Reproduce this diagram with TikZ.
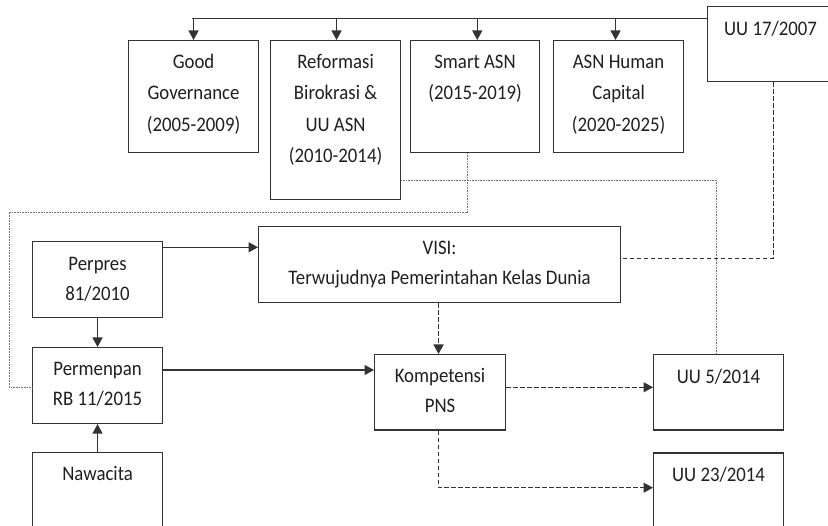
\documentclass[tikz,border=0pt]{standalone}
\usepackage{fontspec}
\usepackage{graphicx}
\setmainfont{Carlito}
\usetikzlibrary{arrows.meta}
% multi-line box caption, slightly stretched vertically
\newcommand\boxtext[2]{\scalebox{1}[1.1]{\fontsize{18.8}{#1}\selectfont\begin{tabular}{@{}c@{}}#2\end{tabular}}}
\begin{document}
\begin{tikzpicture}[x=1pt,y=-1pt,
  box/.style={draw=black!80, line width=1.1pt, inner sep=0pt, anchor=north west},
  lbl/.style={inner sep=0pt, anchor=north, text=black!88},
  link/.style={draw=black!80, line width=1.2pt, -{Triangle[length=9.5pt,width=10pt]}},
  dashlink/.style={link, dash pattern=on 4.5pt off 2.5pt},
  dashplain/.style={draw=black!80, line width=1.2pt, dash pattern=on 4.5pt off 2.5pt},
  dotlink/.style={draw=black!55, line width=0.8pt, dash pattern=on 0.8pt off 0.8pt}
]
\useasboundingbox (0,0) rectangle (828,526);
\clip (0,0) rectangle (828,526);

% upper row: periods of the grand design
\node[box, minimum width=130pt, minimum height=112pt] (gg)    at (128,40) {};
\node[box, minimum width=130pt, minimum height=159pt] (ref)   at (270,40) {};
\node[box, minimum width=129pt, minimum height=112pt] (smart) at (410,40) {};
\node[box, minimum width=130pt, minimum height=112pt] (hc)    at (553,40) {};
\node[box, minimum width=140pt, minimum height=75pt]  (uu17)  at (707,6) {};

\node[lbl] (gg-t)    at ([yshift=-6.3pt]gg.north)    {\boxtext{28.6}{Good\\Governance\\(2005-2009)}};
\node[lbl] (ref-t)   at ([yshift=-6.3pt]ref.north)   {\boxtext{28.6}{Reformasi\\Birokrasi \&\\UU ASN\\(2010-2014)}};
\node[lbl] (smart-t) at ([yshift=-6.3pt]smart.north) {\boxtext{28.6}{Smart ASN\\(2015-2019)}};
\node[lbl] (hc-t)    at ([yshift=-6.3pt]hc.north)    {\boxtext{28.6}{ASN Human\\Capital\\(2020-2025)}};
\node[lbl] (uu17-t)  at ([yshift=-8pt,xshift=-7pt]uu17.north) {\boxtext{27.3}{UU 17/2007}};

% lower part
\node[box, minimum width=130pt, minimum height=76pt]   (perpres) at (32,241) {};
\node[box, minimum width=362pt, minimum height=76pt]   (visi)    at (258,226) {};
\node[box, minimum width=130pt, minimum height=76pt]   (perm)    at (32,347) {};
\node[box, minimum width=130pt, minimum height=100pt]  (nawa)    at (32,452) {};
\node[box, minimum width=131pt, minimum height=75.5pt] (komp)    at (374,354) {};
\node[box, minimum width=130pt, minimum height=75.5pt] (uu5)     at (653,354) {};
\node[box, minimum width=130pt, minimum height=100pt]  (uu23)    at (653,452.5) {};

\node[lbl] (perpres-t) at ([yshift=-8pt]perpres.north) {\boxtext{27.3}{Perpres\\81/2010}};
\node[lbl] (visi-t)    at ([yshift=-7pt]visi.north)    {\boxtext{27.3}{VISI:\\Terwujudnya Pemerintahan Kelas Dunia}};
\node[lbl] (perm-t)    at ([yshift=-7.5pt]perm.north)  {\boxtext{27.3}{Permenpan\\RB 11/2015}};
\node[lbl] (nawa-t)    at ([yshift=-7.5pt]nawa.north)  {\boxtext{27.3}{Nawacita}};
\node[lbl] (komp-t)    at ([yshift=-7.7pt]komp.north)  {\boxtext{27.3}{Kompetensi\\PNS}};
\node[lbl] (uu5-t)     at ([yshift=-8pt]uu5.north)     {\boxtext{27.3}{UU 5/2014}};
\node[lbl] (uu23-t)    at ([yshift=-8pt]uu23.north)    {\boxtext{27.3}{UU 23/2014}};

% dotted links
\draw[dotlink] ([yshift=-140pt]ref.north east) -| ([xshift=-2.5pt]uu5.north);
\coordinate (lm) at (9,212.3);
\draw[dotlink] ([xshift=-7.8pt]smart.south) |- (lm) |- ([yshift=-40.3pt]perm.north west);

% distribution bus from UU 17/2007
\coordinate (bus) at (192,18.3);
\draw[draw=black!80, line width=1.2pt] (uu17.west |- bus) -- (bus);
\draw[link] (gg.north |- bus) -- (gg.north);
\draw[link] ([xshift=1pt]ref.north |- bus) -- ([xshift=1pt]ref.north);
\draw[link] ([xshift=2.2pt]smart.north |- bus) -- ([xshift=2.2pt]smart.north);
\draw[link] ([xshift=-3pt]hc.north |- bus) -- ([xshift=-3pt]hc.north);

% solid links
\draw[link] ([yshift=-6.3pt]perpres.north east) -- ([yshift=-6.3pt]perpres.north east -| visi.west);
\draw[link] (perpres.south) -- (perm.north);
\draw[link] (nawa.north) -- (perm.south);
\draw[link] ([yshift=-23pt]perm.north east) -- ([yshift=-23pt]perm.north east -| komp.west);

% dashed links
\draw[dashplain] ([xshift=-4.3pt]uu17.south) |- ([yshift=-32.3pt]visi.north east);
\draw[dashlink] ([xshift=-1.5pt]komp.north |- visi.south) -- ([xshift=-1.5pt]komp.north);
\draw[dashlink] ([yshift=-33.3pt]komp.north east) -- ([yshift=-33.3pt]komp.north east -| uu5.west);
\draw[dashlink] ([xshift=-1.5pt]komp.south) |- ([yshift=-35.2pt]uu23.north west);
\end{tikzpicture}
\end{document}
